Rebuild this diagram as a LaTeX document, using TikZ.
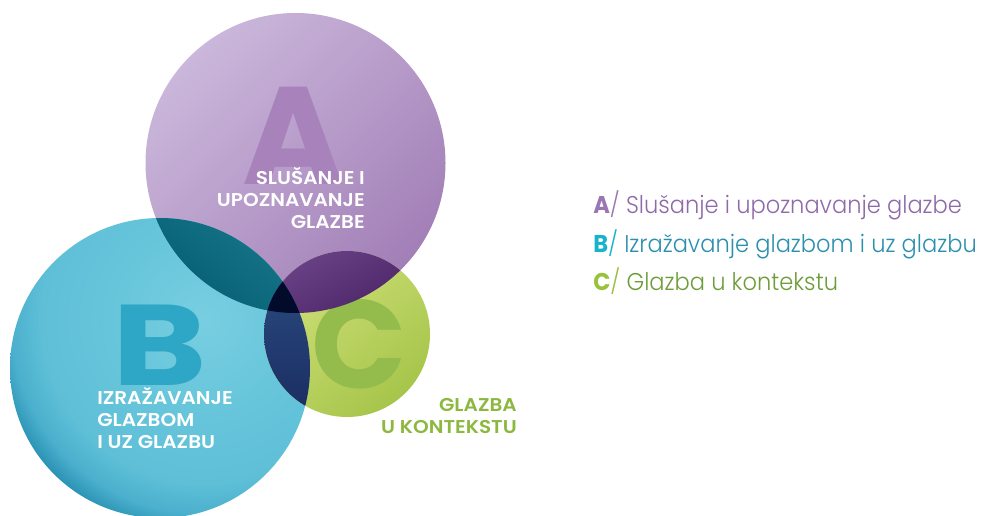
\documentclass[tikz,border=0pt]{standalone}
\usepackage{fontspec}
\setmainfont{Poppins}
\newfontfamily\poplight{Poppins Light}
\newfontfamily\popsemi{Poppins SemiBold}
\definecolor{aLight}{HTML}{CBB7DB}
\definecolor{aDark}{HTML}{A27FB7}
\definecolor{bLight}{HTML}{78CEE1}
\definecolor{bMid}{HTML}{68C6DB}
\definecolor{bMid2}{HTML}{5EBFD7}
\definecolor{bMid3}{HTML}{4BB0CD}
\definecolor{bDark}{HTML}{2A92B4}
\definecolor{cLight}{HTML}{D0E07A}
\definecolor{cDark}{HTML}{A6C54A}
\definecolor{abLight}{HTML}{1A7A8D}
\definecolor{abDark}{HTML}{035B70}
\definecolor{acLight}{HTML}{6B4589}
\definecolor{acDark}{HTML}{4C2466}
\definecolor{bcLight}{HTML}{2B4B7E}
\definecolor{bcDark}{HTML}{1A2D63}
\definecolor{abc}{HTML}{030B2A}
\definecolor{letA}{HTML}{A882BB}
\definecolor{letB}{HTML}{2EA6C6}
\definecolor{letC}{HTML}{94BC4D}
\definecolor{lblC}{HTML}{8DB840}
\definecolor{keyA}{HTML}{9A76B2}
\definecolor{txtA}{HTML}{8E6AAA}
\definecolor{keyB}{HTML}{17B3CB}
\definecolor{txtB}{HTML}{2B8FAE}
\definecolor{keyC}{HTML}{98C13C}
\definecolor{txtC}{HTML}{6F9C3A}
\pgfdeclareradialshading{bvignette}{\pgfpoint{0bp}{0bp}}{color(0bp)=(bLight); color(10bp)=(bMid); color(19bp)=(bMid2); color(22.5bp)=(bMid3); color(25bp)=(bDark); color(50bp)=(bDark)}
\newcommand\legkey[2]{{\normalfont\bfseries\color{#1}#2}}
\newcommand\lbltext[1]{\scalebox{1.08}[1]{#1}}
\newcommand\legtext[1]{\scalebox{0.93}[1]{#1}}
\begin{document}
\begin{tikzpicture}[x=0.75pt,y=-0.75pt]
\tikzset{
  lbl/.style={inner sep=0pt, text=white, font=\popsemi\fontsize{13.9}{16}\selectfont},
  biglet/.style={inner sep=0pt, anchor=base, font=\bfseries\fontsize{#1}{#1}\selectfont},
  leg/.style={inner sep=0pt, anchor=base west, font=\poplight\fontsize{18.2}{20}\selectfont},
}
\useasboundingbox (0,0) rectangle (984,516);
\coordinate (cA) at (295.5,163);
\coordinate (cB) at (160,368);
\coordinate (cC) at (347,334);
\coordinate (cBv) at (205,320);
\def\radA{112.5pt}
\def\radB{112.5pt}
\def\radC{62.25pt}
% base circles
\shade[top color=aLight, bottom color=aDark, shading angle=45] (cA) circle (\radA);
\begin{scope}
  \clip (cB) circle (\radB);
  \shade[shading=bvignette] (cBv) circle (162pt);
\end{scope}
\shade[top color=cLight, bottom color=cDark, shading angle=40] (cC) circle (\radC);
% big letters
\node[biglet=104, text=letA] (bigA) at (294,185) {A};
\node[biglet=86, text=letB] (bigB) at (160,385) {\scalebox{1.25}[1]{B}};
\node[biglet=94, text=letC] (bigC) at (359,388) {C};
% pairwise overlaps
\begin{scope}
  \clip (cA) circle (\radA);
  \clip (cB) circle (\radB);
  \shade[top color=abLight, bottom color=abDark, shading angle=-40] (148,214) rectangle (314,316);
\end{scope}
\begin{scope}
  \clip (cA) circle (\radA);
  \clip (cC) circle (\radC);
  \shade[top color=acLight, bottom color=acDark, shading angle=30] (262,250) rectangle (410,316);
\end{scope}
\begin{scope}
  \clip (cB) circle (\radB);
  \clip (cC) circle (\radC);
  \shade[top color=bcLight, bottom color=bcDark] (262,270) rectangle (314,414);
\end{scope}
\begin{scope}
  \clip (cA) circle (\radA);
  \clip (cB) circle (\radB);
  \fill[abc] (cC) circle (\radC);
\end{scope}
% circle labels
\node[lbl, anchor=base east] (la1) at (365,185) {\lbltext{SLUŠANJE I}};
\node[lbl, anchor=base east] (la2) at (365,207) {\lbltext{UPOZNAVANJE}};
\node[lbl, anchor=base east] (la3) at (365,229) {\lbltext{GLAZBE}};
\node[lbl, anchor=base west] (lb1) at (97,404) {\lbltext{IZRAŽAVANJE}};
\node[lbl, anchor=base west] (lb2) at (97,426) {\lbltext{GLAZBOM}};
\node[lbl, anchor=base west] (lb3) at (97,448) {\lbltext{I UZ GLAZBU}};
\node[lbl, text=lblC, anchor=base east] (lc1) at (517,411) {\lbltext{GLAZBA}};
\node[lbl, text=lblC, anchor=base east] (lc2) at (517,433) {\lbltext{U KONTEKSTU}};
% legend
\node[leg, text=txtA] (legA) at (593,214) {\legtext{\legkey{keyA}{A}\textcolor{keyA}{/} Slušanje i upoznavanje glazbe}};
\node[leg, text=txtB] (legB) at (593,252.5) {\legtext{\legkey{keyB}{B}\textcolor{keyB}{/} Izražavanje glazbom i uz glazbu}};
\node[leg, text=txtC] (legC) at (593,291) {\legtext{\legkey{keyC}{C}\textcolor{keyC}{/} Glazba u kontekstu}};
\end{tikzpicture}
\end{document}
